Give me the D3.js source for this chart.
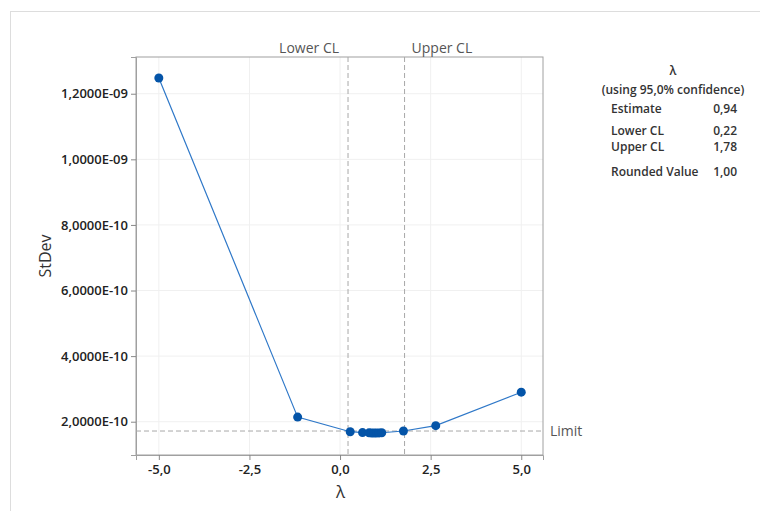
<!DOCTYPE html>
<html><head><meta charset="utf-8">
<script src="https://cdn.jsdelivr.net/npm/d3@7"></script>
<style>
body{margin:0;background:#fff;}
text{font-family:"Open Sans","Noto Sans",sans-serif;}
</style></head><body>
<svg id="c" width="760" height="511"></svg>
<script>
const lambdas = [-5, -1.17, 0.28, 0.62, 0.80, 0.87, 0.94, 1.01, 1.08, 1.15, 1.75, 2.64, 5];
const stdevs = [1.248e-9, 2.14e-10, 1.695e-10, 1.668e-10, 1.660e-10, 1.657e-10, 1.655e-10, 1.656e-10, 1.659e-10, 1.664e-10, 1.716e-10, 1.88e-10, 2.90e-10];
const xTicks = [-5, -2.5, 0, 2.5, 5];
const yTicks = [2e-10, 4e-10, 6e-10, 8e-10, 1e-9, 1.2e-9];
const lowerCL = 0.22, upperCL = 1.78, limitVal = 1.716e-10;
const tableRows = [["Estimate","0,94"],["Lower CL","0,22"],["Upper CL","1,78"],["Rounded Value","1,00"]];

const svg = d3.select("#c");
const L=136, T=57, R=543, B=455;
const x = d3.scaleLinear().domain([-5.63, 5.6]).range([L, R]);
const y = d3.scaleLinear().domain([0.985e-10, 1.312e-9]).range([B, T]);

// outer frame
svg.append("rect").attr("x",10.5).attr("y",11.5).attr("width",800).attr("height",600)
  .attr("fill","none").attr("stroke","#ddd");

// gridlines
const g = svg.append("g");
g.selectAll(".vg").data(xTicks).join("line").attr("x1",d=>x(d)).attr("x2",d=>x(d))
  .attr("y1",T).attr("y2",B).attr("stroke","#f0f0f0");
g.selectAll(".hg").data(yTicks).join("line").attr("y1",d=>y(d)).attr("y2",d=>y(d))
  .attr("x1",L).attr("x2",R).attr("stroke","#f0f0f0");

// plot frame
svg.append("rect").attr("x",L).attr("y",T).attr("width",R-L).attr("height",B-T)
  .attr("fill","none").attr("stroke","#a0a0a0");

const fmtX = d => d3.format(".1f")(d).replace("−","-").replace(".",",");
const fmtY = d => {
  const e = Math.floor(Math.log10(d)+1e-9);
  const m = d/Math.pow(10,e);
  const es = (e<0?"-":"+") + String(Math.abs(e)).padStart(2,"0");
  return m.toFixed(4).replace(".",",")+"E"+es;
};

const xa = svg.append("g").attr("transform",`translate(0,${B})`)
  .call(d3.axisBottom(x).tickValues(xTicks).tickFormat(fmtX).tickSizeOuter(0).tickSize(5).tickPadding(5));
const ya = svg.append("g").attr("transform",`translate(${L},0)`)
  .call(d3.axisLeft(y).tickValues(yTicks).tickFormat(fmtY).tickSizeOuter(0).tickSize(5).tickPadding(3));
[xa,ya].forEach(a=>{
  a.select(".domain").attr("stroke","#a0a0a0");
  a.selectAll(".tick line").attr("stroke","#888");
  a.selectAll(".tick text").attr("fill","#222").attr("font-size",13).attr("font-weight",600)
   .style("font-family",'"Open Sans","Noto Sans",sans-serif');
});

// reference lines
const refs = svg.append("g").attr("stroke","#a8a8a8").attr("stroke-dasharray","5,3").attr("stroke-width",1);
[lowerCL, upperCL].forEach(v=>{
  refs.append("line").attr("x1",x(v)).attr("x2",x(v)).attr("y1",T).attr("y2",B);
});
refs.append("line").attr("x1",L).attr("x2",R).attr("y1",y(limitVal)).attr("y2",y(limitVal));

svg.append("text").attr("x",x(lowerCL)-9).attr("y",T-4).attr("text-anchor","end")
  .attr("font-size",14).attr("fill","#555").text("Lower CL");
svg.append("text").attr("x",x(upperCL)+7).attr("y",T-4).attr("text-anchor","start")
  .attr("font-size",14).attr("fill","#555").text("Upper CL");
svg.append("text").attr("x",R+7).attr("y",y(limitVal)+5).attr("font-size",14)
  .attr("fill","#555").text("Limit");

// line + points
const pts = lambdas.map((l,i)=>[l, stdevs[i]]);
svg.append("path").datum(pts).attr("fill","none").attr("stroke","#2f78c8").attr("stroke-width",1.2)
  .attr("d", d3.line().x(d=>x(d[0])).y(d=>y(d[1])));
svg.selectAll(".pt").data(pts).join("circle").attr("cx",d=>x(d[0])).attr("cy",d=>y(d[1]))
  .attr("r",4.5).attr("fill","#0454a8");

// axis titles
svg.append("text").attr("transform",`translate(51,${(T+B)/2}) rotate(-90)`).attr("text-anchor","middle")
  .attr("font-size",16).attr("fill","#333").text("StDev");
svg.append("text").attr("x",(L+R)/2+1).attr("y",498).attr("text-anchor","middle")
  .attr("font-size",17).attr("fill","#333").text("λ");

// side table
const tx = 611, vx = 737, cx = 673;
svg.append("text").attr("x",cx).attr("y",75).attr("text-anchor","middle").attr("font-size",12)
  .attr("fill","#333").attr("font-weight",600).text("λ");
svg.append("text").attr("x",cx).attr("y",94).attr("text-anchor","middle").attr("font-size",12)
  .attr("fill","#333").attr("font-weight",600).text("(using 95,0% confidence)");
const rowY = [113, 135, 151, 176];
tableRows.forEach((r,i)=>{
  svg.append("text").attr("x",tx).attr("y",rowY[i]).attr("font-size",12).attr("fill","#333")
    .attr("font-weight",600).text(r[0]);
  svg.append("text").attr("x",vx).attr("y",rowY[i]).attr("text-anchor","end").attr("font-size",12)
    .attr("fill","#333").attr("font-weight",600).text(r[1]);
});
</script>
</body></html>
